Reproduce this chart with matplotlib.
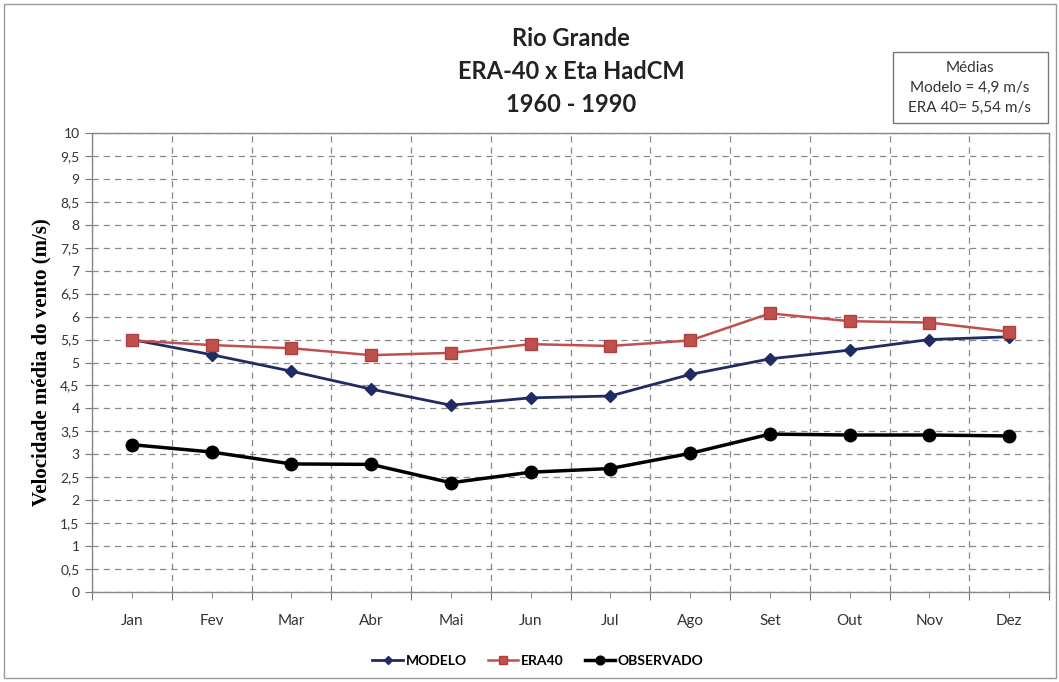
import numpy as np
import matplotlib.pyplot as plt
from matplotlib.patches import Rectangle

# Dados (velocidade media do vento, m/s)
meses = ['Jan', 'Fev', 'Mar', 'Abr', 'Mai', 'Jun', 'Jul', 'Ago', 'Set', 'Out', 'Nov', 'Dez']
modelo = [5.50, 5.17, 4.81, 4.42, 4.07, 4.23, 4.27, 4.74, 5.08, 5.27, 5.50, 5.56]
era40 = [5.48, 5.38, 5.31, 5.16, 5.21, 5.40, 5.36, 5.48, 6.07, 5.90, 5.87, 5.67]
observado = [3.21, 3.05, 2.79, 2.78, 2.38, 2.61, 2.69, 3.02, 3.44, 3.42, 3.42, 3.40]

fonte = 'Lato'
cor_txt = '#333333'

fig = plt.figure(figsize=(10.59, 6.82), dpi=100)
ax = fig.add_axes([92 / 1059, 90 / 682, 957 / 1059, 459 / 682])

x = np.arange(len(meses))
ax.plot(x, modelo, color='#1F2C63', lw=2, marker='D', ms=6, label='MODELO', zorder=3)
ax.plot(x, era40, color='#C0504D', lw=1.8, marker='s', ms=8,
        markerfacecolor='#C0504D', markeredgecolor='#B04040', label='ERA40', zorder=3)
ax.plot(x, observado, color='black', lw=2.5, marker='o', ms=9, label='OBSERVADO', zorder=3)

# eixos
ax.set_xlim(-0.5, len(meses) - 0.5)
ax.set_ylim(0, 10)
ax.set_yticks(np.arange(0, 10.01, 0.5))
ax.set_yticklabels([('%g' % v).replace('.', ',') for v in np.arange(0, 10.01, 0.5)],
                   fontfamily=fonte, fontsize=10, color=cor_txt)
ax.set_xticks(np.arange(-0.5, len(meses), 1.0))
ax.set_xticklabels([])
ax.set_xticks(x, minor=True)
ax.set_xticklabels(meses, minor=True, fontfamily=fonte, fontsize=11, color=cor_txt)
ax.tick_params(axis='x', which='major', length=6, color='#777777')
ax.tick_params(axis='x', which='minor', length=4, color='#777777', pad=12)
ax.tick_params(axis='y', length=5, color='#777777', pad=4)

ax.grid(True, axis='y', ls=(0, (5, 4)), color='#888888', lw=0.9)
ax.grid(True, axis='x', which='major', ls=(0, (5, 4)), color='#888888', lw=0.9)
for s in ax.spines.values():
    s.set_color('#888888')
    s.set_linewidth(1)

ax.set_ylabel('Velocidade média do vento (m/s)', fontfamily='Liberation Serif',
              fontweight='bold', fontsize=15, labelpad=6)

# titulo
for i, t in enumerate(['Rio Grande', 'ERA-40 x Eta HadCM', '1960 - 1990']):
    fig.text(571 / 1059, 1 - (39 + 32.5 * i) / 682, t, ha='center', va='center',
             fontfamily=fonte, fontweight='bold', fontsize=17, color='#222222')

# caixa das medias
fig.patches.append(Rectangle((893 / 1059, 1 - 123 / 682), 155 / 1059, 71 / 682,
                             transform=fig.transFigure, fill=False,
                             edgecolor='#777777', lw=1))
for i, t in enumerate(['Médias', 'Modelo = 4,9 m/s', 'ERA 40= 5,54 m/s']):
    fig.text(970 / 1059, 1 - (68 + 20 * i) / 682, t, ha='center', va='center',
             fontfamily=fonte, fontsize=11, color=cor_txt)

# borda externa
fig.patches.append(Rectangle((4 / 1059, 4 / 682), 1052 / 1059, 674 / 682,
                             transform=fig.transFigure, fill=False,
                             edgecolor='#999999', lw=1))

fig.legend(loc='center', bbox_to_anchor=(0.508, 1 - 661 / 682), ncol=3, frameon=False,
           prop={'family': fonte, 'size': 10, 'weight': 'bold'}, handlelength=2.2,
           columnspacing=1.5, handletextpad=0.2, markerscale=0.7)

plt.savefig('out.png', dpi=100)
